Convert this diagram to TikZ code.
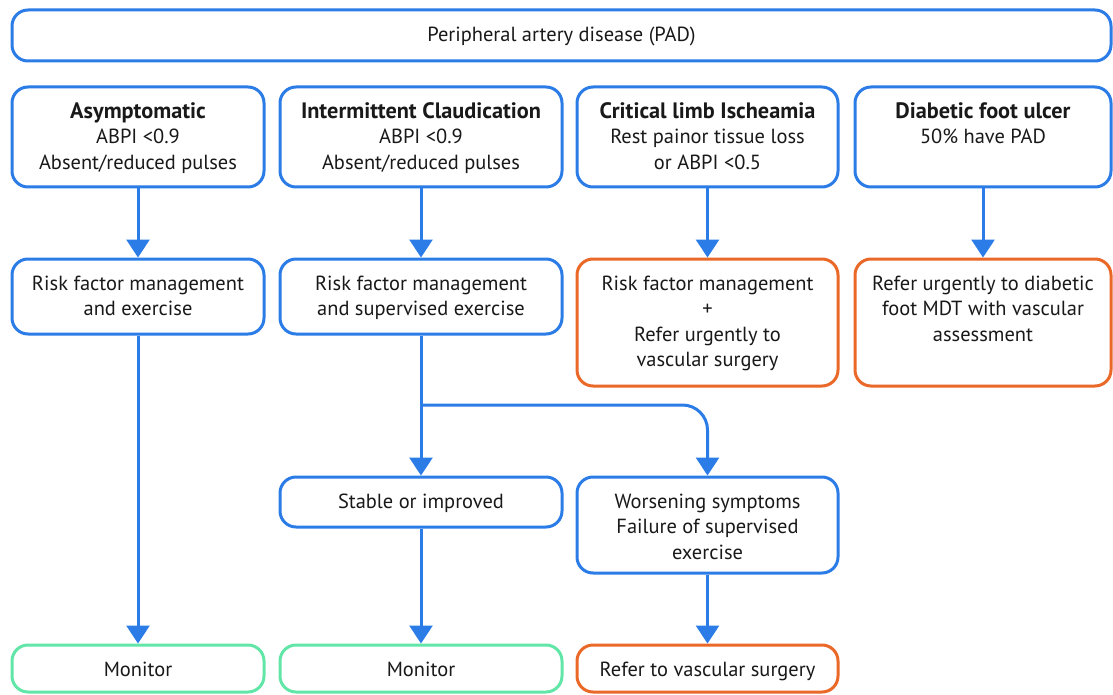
\documentclass[tikz,border=0pt]{standalone}
\usepackage{fontspec}
\setmainfont{PT Sans}
\usetikzlibrary{arrows.meta}
\definecolor{padblue}{RGB}{43,124,230}
\definecolor{padorange}{RGB}{234,104,40}
\definecolor{padgreen}{RGB}{98,230,168}
\definecolor{padtext}{RGB}{25,25,25}
\newlength\refw
\settowidth\refw{\fontsize{10pt}{12pt}\selectfont Risk factor management}
\pgfmathsetmacro\padfs{10*212/\refw}
\newlength\refb
\settowidth\refb{\fontsize{10pt}{12pt}\selectfont\bfseries Intermittent Claudication}
\pgfmathsetmacro\padbs{10*240/\refb}
\newcommand\ttl[1]{{\fontsize{\padbs pt}{25.5pt}\selectfont\bfseries #1}}
\newlength\padtop
\setlength\padtop{13.5pt}
\newcommand\bxtxt[3]{\parbox[c][#2][t]{#1}{\vspace*{\padtop}\centering\strut #3\par}}
\tikzset{
  padbox/.style={draw=padblue, line width=3pt, rounded corners=16pt, inner sep=0pt, fill=white,
    text=padtext, font=\fontsize{\padfs pt}{25.5pt}\selectfont},
  orangebox/.style={padbox, draw=padorange},
  greenbox/.style={padbox, draw=padgreen},
  padarrow/.style={draw=padblue, line width=3pt, -{Triangle[width=23pt,length=18pt]}},
  padline/.style={draw=padblue, line width=3pt}
}
\begin{document}
\begin{tikzpicture}[x=1pt,y=-1pt]
\useasboundingbox (0,0) rectangle (1113,695);
% top
\node[padbox, minimum width=1099pt, minimum height=51pt] (top) at (561.5,35.5)
  {\bxtxt{1090pt}{51pt}{Peripheral artery disease (PAD)}};
% row 1
\node[padbox, minimum width=252pt, minimum height=100pt] (b1) at (138,137)
  {\bxtxt{244pt}{100pt}{\ttl{Asymptomatic}\\ABPI <0.9\\Absent/reduced pulses}};
\node[padbox, minimum width=282pt, minimum height=100pt] (b2) at (421,137)
  {\bxtxt{274pt}{100pt}{\ttl{Intermittent Claudication}\\ABPI <0.9\\Absent/reduced pulses}};
\node[padbox, minimum width=261pt, minimum height=100pt] (b3) at (707.5,137)
  {\bxtxt{253pt}{100pt}{\ttl{Critical limb Ischeamia}\\Rest painor tissue loss\\or ABPI <0.5}};
\node[padbox, minimum width=256pt, minimum height=100pt] (b4) at (983,137)
  {\bxtxt{248pt}{100pt}{\ttl{Diabetic foot ulcer}\\50\% have PAD}};
% row 2
\node[padbox, minimum width=252pt, minimum height=75pt] (r1) at (138,296.5)
  {\bxtxt{244pt}{75pt}{Risk factor management\\and exercise}};
\node[padbox, minimum width=282pt, minimum height=75pt] (r2) at (421,296.5)
  {\bxtxt{274pt}{75pt}{Risk factor management\\and supervised exercise}};
\node[orangebox, minimum width=261pt, minimum height=127pt] (r3) at (707.5,322.5)
  {\bxtxt{253pt}{127pt}{Risk factor management\\+\\Refer urgently to\\vascular surgery}};
\node[orangebox, minimum width=256pt, minimum height=127pt] (r4) at (983,322.5)
  {\bxtxt{248pt}{127pt}{Refer urgently to diabetic\\foot MDT with vascular\\assessment}};
% row 3
\node[padbox, minimum width=282pt, minimum height=50pt] (stable) at (421,502)
  {\bxtxt{274pt}{50pt}{Stable or improved}};
\node[padbox, minimum width=261pt, minimum height=96pt] (worse) at (707.5,525)
  {\bxtxt{253pt}{96pt}{Worsening symptoms\\Failure of supervised\\exercise}};
% row 4
\node[greenbox, minimum width=252pt, minimum height=47pt] (m1) at (138,668.5)
  {\bxtxt{244pt}{47pt}{Monitor}};
\node[greenbox, minimum width=282pt, minimum height=47pt] (m2) at (421,668.5)
  {\bxtxt{274pt}{47pt}{Monitor}};
\node[orangebox, minimum width=261pt, minimum height=47pt] (ref) at (707.5,668.5)
  {\bxtxt{253pt}{47pt}{Refer to vascular surgery}};
% connectors
\draw[padarrow] (b1) -- (r1);
\draw[padarrow] (b2) -- (r2);
\draw[padarrow] (b3) -- (r3);
\draw[padarrow] (b4) -- (r4);
\draw[padarrow] (r1) -- (m1);
\coordinate (br) at (421,405);
\draw[padline] (r2.south) -- (br);
\draw[padarrow] (br) -- (stable.north);
\draw[padarrow, rounded corners=25pt] (br) -- (br -| worse.north) -- (worse.north);
\draw[padarrow] (stable) -- (m2);
\draw[padarrow] (worse) -- (ref);
\end{tikzpicture}
\end{document}
